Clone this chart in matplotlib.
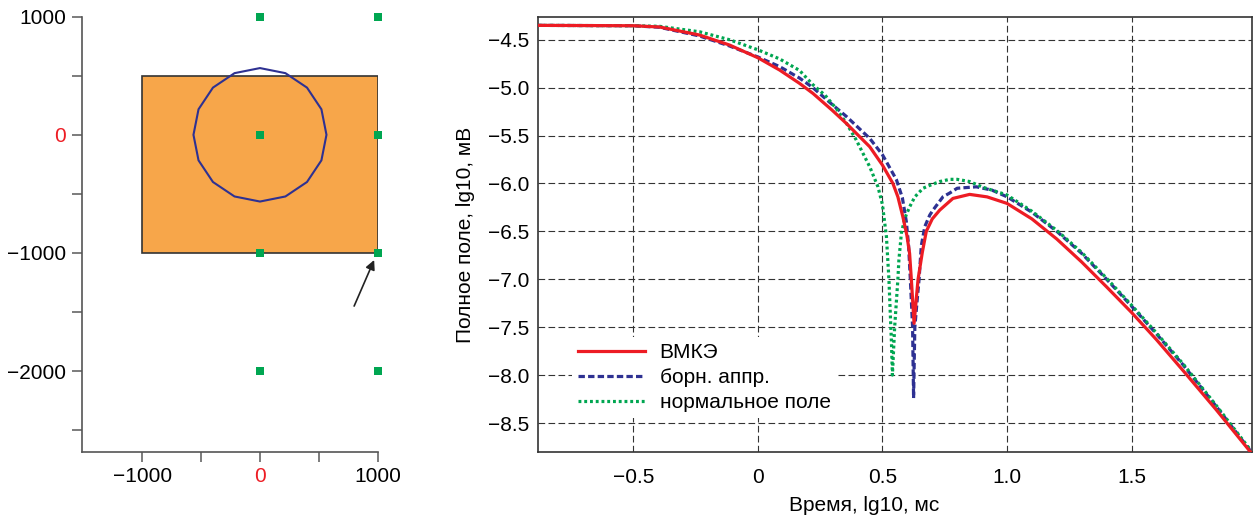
import numpy as np
import matplotlib
matplotlib.use("Agg")
import matplotlib.pyplot as plt
from matplotlib.patches import Rectangle, RegularPolygon

plt.rcParams['font.family'] = ['Liberation Sans', 'DejaVu Sans']
plt.rcParams['font.size'] = 15

# --- left panel: model geometry ---
body_x = [-1000, 1000]          # orange block, x range
body_y = [-1000, 500]           # orange block, y range
sphere_center = (0, 0)
sphere_radius = 565
sphere_sides = 16
recv_x = [0, 1000, 0, 1000, 0, 1000, 0, 1000]
recv_y = [1000, 1000, 0, 0, -1000, -1000, -2000, -2000]
arrow_from = (800, -1450)
arrow_to = (970, -1060)

# --- right panel: field curves, lg10(time) vs lg10(field) ---
fem_t = [-0.88, -0.5, -0.395, -0.234, -0.114, 0, 0.087, 0.167, 0.221, 0.3,
         0.355, 0.449, 0.5, 0.542, 0.562, 0.582, 0.598, 0.609, 0.616, 0.627,
         0.636, 0.643, 0.66, 0.676, 0.70, 0.73, 0.783, 0.85, 0.92, 1.0, 1.1,
         1.2, 1.3, 1.4, 1.5, 1.6, 1.706, 1.841, 1.98]
fem_v = [-4.35, -4.354, -4.367, -4.451, -4.555, -4.688, -4.816, -4.955, -5.06,
         -5.24, -5.373, -5.617, -5.808, -6.0, -6.14, -6.348, -6.54, -6.73,
         -7.0, -7.46, -7.2, -7.0, -6.72, -6.5, -6.37, -6.278, -6.156, -6.114,
         -6.14, -6.208, -6.37, -6.58, -6.82, -7.08, -7.346, -7.63, -7.95,
         -8.365, -8.81]

born_t = [-0.88, -0.5, -0.395, -0.234, -0.114, 0, 0.087, 0.167, 0.221, 0.3,
          0.355, 0.449, 0.5, 0.556, 0.58, 0.596, 0.605, 0.612, 0.621, 0.625,
          0.630, 0.640, 0.647, 0.656, 0.67, 0.69, 0.703, 0.743, 0.77, 0.80,
          0.877, 0.94, 1.0, 1.1, 1.2, 1.3, 1.4, 1.5, 1.6, 1.706, 1.841, 1.98]
born_v = [-4.35, -4.354, -4.37, -4.461, -4.565, -4.68, -4.78, -4.90, -5.0,
          -5.18, -5.30, -5.53, -5.70, -5.96, -6.15, -6.40, -6.65, -7.0, -7.5,
          -8.24, -7.5, -7.2, -7.0, -6.65, -6.45, -6.33, -6.278, -6.139, -6.10,
          -6.05, -6.035, -6.07, -6.139, -6.30, -6.50, -6.73, -7.0, -7.28,
          -7.57, -7.89, -8.33, -8.80]

norm_t = [-0.88, -0.5, -0.395, -0.234, -0.114, 0, 0.087, 0.167, 0.221, 0.27,
          0.315, 0.355, 0.395, 0.449, 0.482, 0.50, 0.516, 0.526, 0.536, 0.540,
          0.549, 0.562, 0.566, 0.576, 0.59, 0.61, 0.63, 0.663, 0.69, 0.73,
          0.77, 0.80, 0.85, 0.904, 1.0, 1.1, 1.2, 1.3, 1.4, 1.5, 1.6, 1.706,
          1.841, 1.98]
norm_v = [-4.35, -4.354, -4.36, -4.417, -4.50, -4.605, -4.70, -4.82, -4.97,
          -5.08, -5.22, -5.37, -5.547, -5.826, -6.035, -6.22, -6.556, -7.0,
          -7.65, -8.0, -7.5, -7.0, -6.80, -6.52, -6.36, -6.24, -6.14, -6.05,
          -6.02, -5.98, -5.957, -5.957, -5.98, -6.04, -6.12, -6.29, -6.49,
          -6.72, -6.99, -7.27, -7.56, -7.88, -8.32, -8.79]

labels = ['ВМКЭ', 'борн. аппр.', 'нормальное поле']
xticks_r = [-0.5, 0, 0.5, 1.0, 1.5]
xtick_labels_r = ['\u22120.5', '0', '0.5', '1.0', '1.5']
yticks_r = [-4.5, -5.0, -5.5, -6.0, -6.5, -7.0, -7.5, -8.0, -8.5]
ytick_labels_r = ['\u22124.5', '\u22125.0', '\u22125.5', '\u22126.0', '\u22126.5',
                  '\u22127.0', '\u22127.5', '\u22128.0', '\u22128.5']

RED = '#ED1C24'
BLUE = '#2E3192'
GREEN = '#00A651'

fig = plt.figure(figsize=(12.56, 5.17), dpi=100)

# ---------------- left panel ----------------
ax1 = fig.add_axes([0.065, 0.1263, 0.2357, 0.8414])
ax1.add_patch(Rectangle((body_x[0], body_y[0]), body_x[1] - body_x[0],
                        body_y[1] - body_y[0], facecolor='#F7A64A',
                        edgecolor='#333333', lw=1.2))
ax1.add_patch(RegularPolygon(sphere_center, sphere_sides, radius=sphere_radius,
                             fill=False, edgecolor=BLUE, lw=1.5))
ax1.scatter(recv_x, recv_y, marker='s', s=36, color=GREEN, zorder=5,
            clip_on=False, linewidths=0)
ax1.annotate('', xy=arrow_to, xytext=arrow_from,
             arrowprops=dict(arrowstyle='-|>', color='#222222', lw=1.2,
                             mutation_scale=14, shrinkA=0, shrinkB=0))
ax1.set_xlim(-1515, 1000)
ax1.set_ylim(-2683, 1000)
for s in ['top', 'right']:
    ax1.spines[s].set_visible(False)
for s in ['left', 'bottom']:
    ax1.spines[s].set_color('#555555')
    ax1.spines[s].set_linewidth(1.2)
ax1.set_xticks([-1000, -500, 0, 500, 1000])
ax1.set_xticklabels(['\u22121000', '', '0', '', '1000'])
ax1.set_yticks([-2500, -2000, -1500, -1000, -500, 0, 500, 1000])
ax1.set_yticklabels(['', '\u22122000', '', '\u22121000', '', '0', '', '1000'])
ax1.tick_params(direction='out', length=7, width=1.2, color='#666666', pad=4,
                labelsize=15)
ax1.get_xticklabels()[2].set_color(RED)
ax1.get_yticklabels()[5].set_color(RED)

# ---------------- right panel ----------------
ax2 = fig.add_axes([0.4283, 0.1251, 0.5682, 0.8414])
ax2.plot(fem_t, fem_v, color=RED, lw=2.3, label=labels[0], zorder=4)
ax2.plot(born_t, born_v, color=BLUE, lw=2.3, dashes=(2.0, 1.0),
         label=labels[1], zorder=3)
ax2.plot(norm_t, norm_v, color=GREEN, lw=2.3, dashes=(0.9, 0.9),
         label=labels[2], zorder=3)
ax2.set_xlim(-0.883, 1.982)
ax2.set_ylim(-8.806, -4.266)
ax2.set_xticks(xticks_r)
ax2.set_xticklabels(xtick_labels_r)
ax2.set_yticks(yticks_r)
ax2.set_yticklabels(ytick_labels_r)
ax2.tick_params(length=0, labelsize=15)
ax2.tick_params(axis='x', pad=11)
ax2.tick_params(axis='y', pad=6)
ax2.grid(True, color='#333333', lw=0.8, dashes=(6, 3))
for s in ax2.spines.values():
    s.set_color('#333333')
    s.set_linewidth(1.2)
ax2.set_xlabel('Время, lg10, мс', fontsize=15)
ax2.xaxis.set_label_coords(0.457, -0.1)
ax2.set_ylabel('Полное поле, lg10, мВ', fontsize=15)
ax2.yaxis.set_label_coords(-0.088, 0.5)

leg = ax2.legend(loc='upper left', bbox_to_anchor=(0.048, 0.265),
                 borderaxespad=0, borderpad=0.3, handlelength=3.2,
                 handletextpad=0.7, labelspacing=0.28, fontsize=15,
                 frameon=True, fancybox=False)
leg.get_frame().set_facecolor('white')
leg.get_frame().set_edgecolor('none')
leg.get_frame().set_alpha(1)

fig.savefig('out.png', dpi=100)
